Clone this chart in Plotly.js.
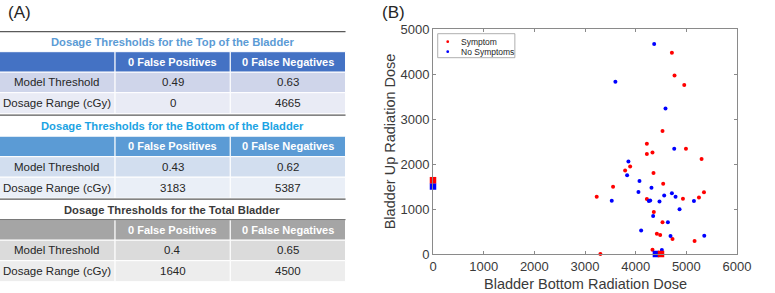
<!DOCTYPE html>
<html><head><meta charset="utf-8">
<script src="https://cdn.plot.ly/plotly-3.0.1.min.js"></script>
<style>html,body{margin:0;padding:0;background:#fff}#chart{width:775px;height:293px}</style>
</head><body><div id="chart"></div>
<script>
// ---------- data ----------
const symptomX = [4221,4221,4332,4992,5301,4715,4767,4959,4530,3891,3792,4352,3554,4543,3231,4221,4933,5249,5348,4358,4530,4418,4484,4727,5163,4332,3304];
const symptomY = [2451,2225,2258,2340,2110,4473,3969,3755,2733,1947,1858,1800,1495,1560,1270,1222,1226,1255,1370,933,703,451,422,333,289,92,0];
const noSymX = [4365,3600,4589,4761,3857,3831,4075,4312,4055,3528,4260,4287,4470,4563,4715,4787,5150,4866,4345,4636,4108,4688,5354,4517];
const noSymY = [4665,3829,3236,2340,2058,1748,1622,1474,1378,1185,1180,1190,1165,1300,1350,1273,1180,995,844,703,525,400,404,90];
const symThreshX = [0,4500];
const symThreshY = [1640,0];
const noSymThreshX = [0,4400];
const noSymThreshY = [1500,0];
const legendLabels = ['Symptom','No Symptoms'];
const xTitle = 'Bladder Bottom Radiation Dose';
const yTitle = 'Bladder Up Radiation Dose';

const tableTitles = ['Dosage Thresholds for the Top of the Bladder','Dosage Thresholds for the Bottom of the Bladder','Dosage Thresholds for the Total Bladder'];
const colHeaders = ['', '0 False Positives', '0 False Negatives'];
const rowLabels = ['Model Threshold', 'Dosage Range (cGy)'];
const topValues = [['0.49','0.63'],['0','4665']];
const bottomValues = [['0.43','0.62'],['3183','5387']];
const totalValues = [['0.4','0.65'],['1640','4500']];

// ---------- geometry helpers (pixel -> paper) ----------
const W=775,H=293,L=433.3,R=38.3,T=29.3,B=38.7;
const PW=W-L-R, PH=H-T-B;
const fx = p => (p-L)/PW;
const fy = p => (H-B-p)/PH;

const shapes=[], ann=[];
function rect(x0,y0,x1,y1,fill,lc,lw){
  shapes.push({type:'rect',xref:'paper',yref:'paper',x0:fx(x0),x1:fx(x1),y0:fy(y1),y1:fy(y0),
    fillcolor:fill,line:{color:lc||fill,width:lw===undefined?0:lw},layer:'above'});
}
function hline(x0,x1,y,c,w){
  shapes.push({type:'line',xref:'paper',yref:'paper',x0:fx(x0),x1:fx(x1),y0:fy(y),y1:fy(y),line:{color:c,width:w},layer:'above'});
}
function text(s,x,y,size,color,family,anchor,angle){
  ann.push({text:s,xref:'paper',yref:'paper',x:fx(x),y:fy(y),xanchor:anchor||'center',yanchor:'middle',
    showarrow:false,textangle:angle||0,font:{size:size,color:color,family:family||'Liberation Sans, Arial, sans-serif'}});
}

// ---------- table ----------
const colX=[0,116,231,346];
const narrow='Liberation Sans Narrow, Arial Narrow, Liberation Sans, sans-serif';
const tables=[
  {top:32, title:tableTitles[0], tcol:'#5B9BD5', head:'#4472C4', rows:['#CFD5EA','#E9EBF5'], vals:topValues, hy:52, headLine:false},
  {top:115.5, title:tableTitles[1], tcol:'#1CA3E3', head:'#5B9BD5', rows:['#D2DEEF','#EAEFF7'], vals:bottomValues, hy:136.5, headLine:false},
  {top:199.5, title:tableTitles[2], tcol:'#3A3A3A', head:'#A5A5A5', rows:['#DBDBDB','#EDEDED'], vals:totalValues, hy:220, headLine:true},
];
tables.forEach(t=>{
  const rh=[t.hy,t.hy+20.5,t.hy+41,t.hy+62];
  for(let c=0;c<3;c++){
    rect(colX[c],rh[0],colX[c+1],rh[1],t.head,'#FFFFFF',1);
    rect(colX[c],rh[1],colX[c+1],rh[2],t.rows[0],'#FFFFFF',1);
    rect(colX[c],rh[2],colX[c+1],rh[3],t.rows[1],'#FFFFFF',1);
  }
  if(t.headLine) hline(0,346,rh[0],'#5A5A5A',1);
  text('<b>'+t.title+'</b>',173,t.top+10.5,11.2,t.tcol,narrow);
  for(let c=1;c<3;c++) text('<b>'+colHeaders[c]+'</b>',(colX[c]+colX[c+1])/2,(rh[0]+rh[1])/2,11,'#FFFFFF',narrow);
  for(let r=0;r<2;r++){
    text(rowLabels[r],58,(rh[r+1]+rh[r+2])/2,11.5,'#262626');
    for(let c=0;c<2;c++) text(t.vals[r][c],(colX[c+1]+colX[c+2])/2,(rh[r+1]+rh[r+2])/2,11.5,'#262626');
  }
});
hline(0,346,32,'#5A5A5A',1.2);
hline(0,346,115.5,'#5A5A5A',1.2);
hline(0,346,199.5,'#5A5A5A',1.2);

// panel labels
text('(A)',21,13,17,'#262626');
text('(B)',394,13,17,'#262626');

// axis titles
text(xTitle,585,284,14.5,'#3A3A3A');
text(yTitle,390,142,14.5,'#3A3A3A','Liberation Sans, Arial, sans-serif','center',-90);

// custom legend
rect(438,34,515,58,'#FFFFFF','#999999',0.8);
shapes.push({type:'circle',xref:'paper',yref:'paper',x0:fx(446.6),x1:fx(449.4),y0:fy(43.4),y1:fy(40.6),fillcolor:'#FF0000',line:{width:0},layer:'above'});
shapes.push({type:'circle',xref:'paper',yref:'paper',x0:fx(446.6),x1:fx(449.4),y0:fy(53.4),y1:fy(50.6),fillcolor:'#0000FF',line:{width:0},layer:'above'});
text(legendLabels[0],459,42,8.5,'#262626',null,'left');
text(legendLabels[1],459,52,8.5,'#262626',null,'left');

const traces=[
  {x:symptomX,y:symptomY,type:'scatter',mode:'markers',name:legendLabels[0],marker:{color:'#FF0000',size:4},cliponaxis:false},
  {x:noSymX,y:noSymY,type:'scatter',mode:'markers',name:legendLabels[1],marker:{color:'#0000FF',size:4},cliponaxis:false},
  {x:noSymThreshX,y:noSymThreshY,type:'scatter',mode:'markers',showlegend:false,marker:{color:'#0000FF',size:6.5,symbol:'square'},cliponaxis:false},
  {x:symThreshX,y:symThreshY,type:'scatter',mode:'markers',showlegend:false,marker:{color:'#FF0000',size:6.5,symbol:'square'},cliponaxis:false},
];
const axisCommon={showgrid:false,zeroline:false,showline:true,mirror:'ticks',linecolor:'#8A8A8A',linewidth:1,
  ticks:'inside',ticklen:3,tickcolor:'#8A8A8A',tickfont:{size:13,color:'#3A3A3A',family:'Liberation Sans, Arial, sans-serif'}};
const layout={
  width:W,height:H,margin:{l:L,r:R,t:T,b:B},paper_bgcolor:'#FFFFFF',plot_bgcolor:'#FFFFFF',showlegend:false,
  xaxis:Object.assign({range:[0,6000],tickvals:[0,1000,2000,3000,4000,5000,6000],fixedrange:true},axisCommon),
  yaxis:Object.assign({range:[0,5000],tickvals:[0,1000,2000,3000,4000,5000],fixedrange:true},axisCommon),
  shapes:shapes,annotations:ann
};
Plotly.newPlot('chart',traces,layout,{displayModeBar:false,staticPlot:true});
</script></body></html>
